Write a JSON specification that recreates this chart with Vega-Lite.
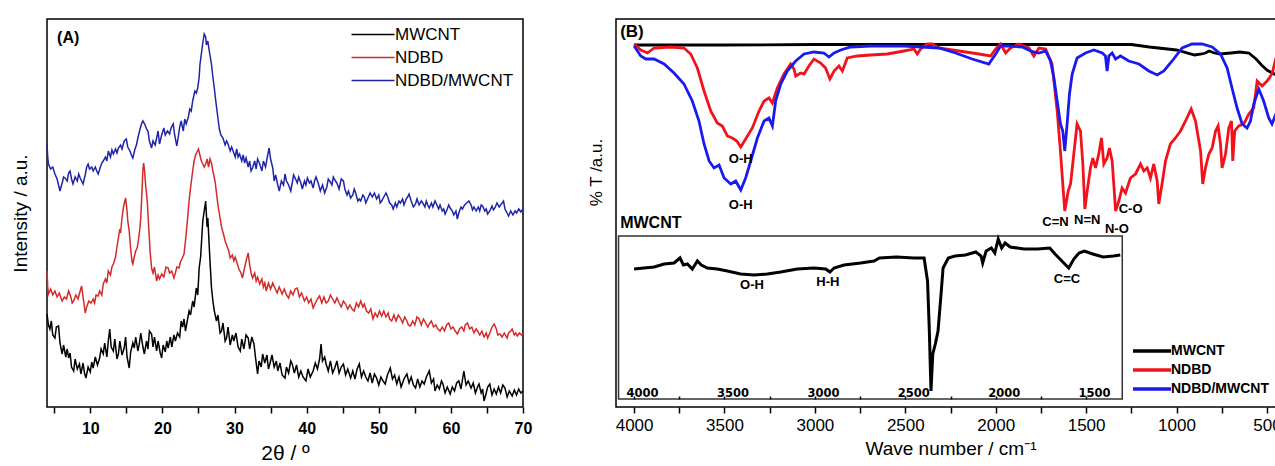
{
"$schema": "https://vega.github.io/schema/vega-lite/v6.json",
"padding": {"left": 10, "top": 18, "right": 0, "bottom": 0},
"spacing": 53,
"config": {"view": {"stroke": "#000", "strokeWidth": 1.5}, "font": "Liberation Sans", "axis": {"labelColor": "#000", "titleColor": "#000", "tickColor": "#000", "grid": false}},
"resolve": {"scale": {"color": "independent"}, "legend": {"color": "independent"}},
"datasets": {
"xrd": [
{"s":"MWCNT","t":4.0,"i":93},{"s":"MWCNT","t":4.2,"i":82},{"s":"MWCNT","t":4.4,"i":78},{"s":"MWCNT","t":4.6,"i":86},{"s":"MWCNT","t":4.8,"i":72},{"s":"MWCNT","t":5.1,"i":69},{"s":"MWCNT","t":5.3,"i":80},{"s":"MWCNT","t":5.6,"i":81},{"s":"MWCNT","t":5.8,"i":64},{"s":"MWCNT","t":6.1,"i":53},{"s":"MWCNT","t":6.3,"i":62},{"s":"MWCNT","t":6.6,"i":50},{"s":"MWCNT","t":6.8,"i":58},{"s":"MWCNT","t":7.0,"i":49},{"s":"MWCNT","t":7.2,"i":54},{"s":"MWCNT","t":7.4,"i":40},{"s":"MWCNT","t":7.7,"i":36},{"s":"MWCNT","t":7.9,"i":48},{"s":"MWCNT","t":8.2,"i":38},{"s":"MWCNT","t":8.5,"i":43},{"s":"MWCNT","t":8.7,"i":33},{"s":"MWCNT","t":9.0,"i":44},{"s":"MWCNT","t":9.2,"i":34},{"s":"MWCNT","t":9.4,"i":29},{"s":"MWCNT","t":9.7,"i":40},{"s":"MWCNT","t":10.0,"i":35},{"s":"MWCNT","t":10.2,"i":45},{"s":"MWCNT","t":10.4,"i":39},{"s":"MWCNT","t":10.7,"i":50},{"s":"MWCNT","t":11.0,"i":42},{"s":"MWCNT","t":11.3,"i":49},{"s":"MWCNT","t":11.5,"i":58},{"s":"MWCNT","t":11.8,"i":53},{"s":"MWCNT","t":12.0,"i":64},{"s":"MWCNT","t":12.3,"i":50},{"s":"MWCNT","t":12.5,"i":66},{"s":"MWCNT","t":12.7,"i":78},{"s":"MWCNT","t":12.9,"i":60},{"s":"MWCNT","t":13.2,"i":56},{"s":"MWCNT","t":13.4,"i":68},{"s":"MWCNT","t":13.7,"i":48},{"s":"MWCNT","t":13.9,"i":53},{"s":"MWCNT","t":14.1,"i":66},{"s":"MWCNT","t":14.4,"i":52},{"s":"MWCNT","t":14.7,"i":59},{"s":"MWCNT","t":14.9,"i":70},{"s":"MWCNT","t":15.1,"i":50},{"s":"MWCNT","t":15.4,"i":39},{"s":"MWCNT","t":15.6,"i":55},{"s":"MWCNT","t":15.9,"i":64},{"s":"MWCNT","t":16.1,"i":59},{"s":"MWCNT","t":16.3,"i":70},{"s":"MWCNT","t":16.6,"i":56},{"s":"MWCNT","t":16.8,"i":63},{"s":"MWCNT","t":17.0,"i":74},{"s":"MWCNT","t":17.3,"i":60},{"s":"MWCNT","t":17.5,"i":53},{"s":"MWCNT","t":17.8,"i":66},{"s":"MWCNT","t":18.0,"i":58},{"s":"MWCNT","t":18.2,"i":76},{"s":"MWCNT","t":18.5,"i":73},{"s":"MWCNT","t":18.7,"i":60},{"s":"MWCNT","t":18.9,"i":70},{"s":"MWCNT","t":19.2,"i":56},{"s":"MWCNT","t":19.4,"i":66},{"s":"MWCNT","t":19.7,"i":54},{"s":"MWCNT","t":19.9,"i":49},{"s":"MWCNT","t":20.1,"i":62},{"s":"MWCNT","t":20.4,"i":55},{"s":"MWCNT","t":20.6,"i":66},{"s":"MWCNT","t":20.8,"i":59},{"s":"MWCNT","t":21.1,"i":70},{"s":"MWCNT","t":21.3,"i":60},{"s":"MWCNT","t":21.6,"i":72},{"s":"MWCNT","t":21.8,"i":66},{"s":"MWCNT","t":22.1,"i":74},{"s":"MWCNT","t":22.4,"i":70},{"s":"MWCNT","t":22.6,"i":86},{"s":"MWCNT","t":22.8,"i":80},{"s":"MWCNT","t":23.0,"i":88},{"s":"MWCNT","t":23.2,"i":76},{"s":"MWCNT","t":23.4,"i":84},{"s":"MWCNT","t":23.7,"i":96},{"s":"MWCNT","t":23.9,"i":92},{"s":"MWCNT","t":24.2,"i":106},{"s":"MWCNT","t":24.4,"i":100},{"s":"MWCNT","t":24.7,"i":119},{"s":"MWCNT","t":24.9,"i":112},{"s":"MWCNT","t":25.1,"i":139},{"s":"MWCNT","t":25.3,"i":150},{"s":"MWCNT","t":25.6,"i":186},{"s":"MWCNT","t":25.8,"i":196},{"s":"MWCNT","t":26.0,"i":206},{"s":"MWCNT","t":26.2,"i":180},{"s":"MWCNT","t":26.3,"i":189},{"s":"MWCNT","t":26.5,"i":160},{"s":"MWCNT","t":26.6,"i":146},{"s":"MWCNT","t":26.8,"i":120},{"s":"MWCNT","t":27.0,"i":106},{"s":"MWCNT","t":27.2,"i":96},{"s":"MWCNT","t":27.5,"i":86},{"s":"MWCNT","t":27.7,"i":92},{"s":"MWCNT","t":28.0,"i":74},{"s":"MWCNT","t":28.2,"i":76},{"s":"MWCNT","t":28.4,"i":84},{"s":"MWCNT","t":28.7,"i":66},{"s":"MWCNT","t":28.9,"i":69},{"s":"MWCNT","t":29.1,"i":80},{"s":"MWCNT","t":29.4,"i":62},{"s":"MWCNT","t":29.7,"i":72},{"s":"MWCNT","t":29.9,"i":66},{"s":"MWCNT","t":30.2,"i":74},{"s":"MWCNT","t":30.5,"i":60},{"s":"MWCNT","t":30.8,"i":56},{"s":"MWCNT","t":31.0,"i":68},{"s":"MWCNT","t":31.3,"i":58},{"s":"MWCNT","t":31.6,"i":72},{"s":"MWCNT","t":31.9,"i":69},{"s":"MWCNT","t":32.1,"i":58},{"s":"MWCNT","t":32.4,"i":70},{"s":"MWCNT","t":32.7,"i":63},{"s":"MWCNT","t":32.9,"i":50},{"s":"MWCNT","t":33.2,"i":33},{"s":"MWCNT","t":33.4,"i":46},{"s":"MWCNT","t":33.7,"i":40},{"s":"MWCNT","t":33.9,"i":53},{"s":"MWCNT","t":34.2,"i":44},{"s":"MWCNT","t":34.5,"i":52},{"s":"MWCNT","t":34.7,"i":38},{"s":"MWCNT","t":34.9,"i":43},{"s":"MWCNT","t":35.2,"i":52},{"s":"MWCNT","t":35.5,"i":40},{"s":"MWCNT","t":35.8,"i":46},{"s":"MWCNT","t":36.0,"i":36},{"s":"MWCNT","t":36.3,"i":44},{"s":"MWCNT","t":36.6,"i":32},{"s":"MWCNT","t":37.0,"i":29},{"s":"MWCNT","t":37.2,"i":40},{"s":"MWCNT","t":37.5,"i":34},{"s":"MWCNT","t":37.8,"i":46},{"s":"MWCNT","t":38.0,"i":43},{"s":"MWCNT","t":38.3,"i":34},{"s":"MWCNT","t":38.6,"i":42},{"s":"MWCNT","t":38.9,"i":30},{"s":"MWCNT","t":39.2,"i":36},{"s":"MWCNT","t":39.5,"i":30},{"s":"MWCNT","t":39.9,"i":26},{"s":"MWCNT","t":40.2,"i":38},{"s":"MWCNT","t":40.5,"i":30},{"s":"MWCNT","t":40.9,"i":36},{"s":"MWCNT","t":41.2,"i":44},{"s":"MWCNT","t":41.5,"i":38},{"s":"MWCNT","t":41.8,"i":48},{"s":"MWCNT","t":42.0,"i":63},{"s":"MWCNT","t":42.2,"i":46},{"s":"MWCNT","t":42.5,"i":50},{"s":"MWCNT","t":42.7,"i":43},{"s":"MWCNT","t":43.0,"i":36},{"s":"MWCNT","t":43.3,"i":46},{"s":"MWCNT","t":43.6,"i":34},{"s":"MWCNT","t":43.9,"i":39},{"s":"MWCNT","t":44.2,"i":46},{"s":"MWCNT","t":44.5,"i":34},{"s":"MWCNT","t":44.8,"i":40},{"s":"MWCNT","t":45.1,"i":43},{"s":"MWCNT","t":45.4,"i":32},{"s":"MWCNT","t":45.7,"i":38},{"s":"MWCNT","t":46.1,"i":29},{"s":"MWCNT","t":46.4,"i":36},{"s":"MWCNT","t":46.7,"i":28},{"s":"MWCNT","t":47.0,"i":38},{"s":"MWCNT","t":47.3,"i":43},{"s":"MWCNT","t":47.6,"i":30},{"s":"MWCNT","t":47.9,"i":36},{"s":"MWCNT","t":48.2,"i":30},{"s":"MWCNT","t":48.5,"i":26},{"s":"MWCNT","t":48.8,"i":34},{"s":"MWCNT","t":49.1,"i":24},{"s":"MWCNT","t":49.4,"i":33},{"s":"MWCNT","t":49.7,"i":29},{"s":"MWCNT","t":50.0,"i":22},{"s":"MWCNT","t":50.3,"i":30},{"s":"MWCNT","t":50.6,"i":26},{"s":"MWCNT","t":50.9,"i":23},{"s":"MWCNT","t":51.2,"i":32},{"s":"MWCNT","t":51.6,"i":39},{"s":"MWCNT","t":51.9,"i":28},{"s":"MWCNT","t":52.2,"i":32},{"s":"MWCNT","t":52.5,"i":23},{"s":"MWCNT","t":52.8,"i":30},{"s":"MWCNT","t":53.1,"i":20},{"s":"MWCNT","t":53.5,"i":28},{"s":"MWCNT","t":53.9,"i":33},{"s":"MWCNT","t":54.2,"i":24},{"s":"MWCNT","t":54.5,"i":30},{"s":"MWCNT","t":54.8,"i":22},{"s":"MWCNT","t":55.1,"i":19},{"s":"MWCNT","t":55.4,"i":28},{"s":"MWCNT","t":55.7,"i":20},{"s":"MWCNT","t":56.0,"i":26},{"s":"MWCNT","t":56.3,"i":23},{"s":"MWCNT","t":56.6,"i":30},{"s":"MWCNT","t":57.0,"i":36},{"s":"MWCNT","t":57.3,"i":24},{"s":"MWCNT","t":57.6,"i":28},{"s":"MWCNT","t":57.8,"i":16},{"s":"MWCNT","t":58.1,"i":22},{"s":"MWCNT","t":58.4,"i":18},{"s":"MWCNT","t":58.7,"i":26},{"s":"MWCNT","t":58.9,"i":23},{"s":"MWCNT","t":59.2,"i":14},{"s":"MWCNT","t":59.5,"i":20},{"s":"MWCNT","t":59.9,"i":13},{"s":"MWCNT","t":60.2,"i":20},{"s":"MWCNT","t":60.5,"i":16},{"s":"MWCNT","t":60.8,"i":24},{"s":"MWCNT","t":61.1,"i":26},{"s":"MWCNT","t":61.4,"i":18},{"s":"MWCNT","t":61.8,"i":36},{"s":"MWCNT","t":62.1,"i":22},{"s":"MWCNT","t":62.4,"i":26},{"s":"MWCNT","t":62.8,"i":19},{"s":"MWCNT","t":63.1,"i":24},{"s":"MWCNT","t":63.4,"i":14},{"s":"MWCNT","t":63.7,"i":20},{"s":"MWCNT","t":63.9,"i":23},{"s":"MWCNT","t":64.2,"i":14},{"s":"MWCNT","t":64.4,"i":18},{"s":"MWCNT","t":64.6,"i":6},{"s":"MWCNT","t":64.9,"i":14},{"s":"MWCNT","t":65.1,"i":20},{"s":"MWCNT","t":65.4,"i":23},{"s":"MWCNT","t":65.7,"i":12},{"s":"MWCNT","t":66.0,"i":18},{"s":"MWCNT","t":66.3,"i":13},{"s":"MWCNT","t":66.6,"i":20},{"s":"MWCNT","t":66.9,"i":14},{"s":"MWCNT","t":67.2,"i":22},{"s":"MWCNT","t":67.5,"i":19},{"s":"MWCNT","t":67.8,"i":10},{"s":"MWCNT","t":68.1,"i":16},{"s":"MWCNT","t":68.5,"i":11},{"s":"MWCNT","t":68.8,"i":17},{"s":"MWCNT","t":69.1,"i":12},{"s":"MWCNT","t":69.4,"i":18},{"s":"MWCNT","t":69.7,"i":14},{"s":"MWCNT","t":70.0,"i":16},
{"s":"NDBD","t":4.0,"i":136},{"s":"NDBD","t":4.1,"i":120},{"s":"NDBD","t":4.2,"i":113},{"s":"NDBD","t":4.5,"i":118},{"s":"NDBD","t":4.8,"i":112},{"s":"NDBD","t":5.1,"i":116},{"s":"NDBD","t":5.4,"i":110},{"s":"NDBD","t":5.7,"i":114},{"s":"NDBD","t":6.1,"i":106},{"s":"NDBD","t":6.4,"i":110},{"s":"NDBD","t":6.7,"i":108},{"s":"NDBD","t":7.0,"i":116},{"s":"NDBD","t":7.3,"i":110},{"s":"NDBD","t":7.5,"i":104},{"s":"NDBD","t":7.7,"i":106},{"s":"NDBD","t":8.0,"i":112},{"s":"NDBD","t":8.3,"i":108},{"s":"NDBD","t":8.6,"i":116},{"s":"NDBD","t":8.8,"i":121},{"s":"NDBD","t":9.0,"i":110},{"s":"NDBD","t":9.3,"i":94},{"s":"NDBD","t":9.5,"i":100},{"s":"NDBD","t":9.8,"i":106},{"s":"NDBD","t":10.1,"i":104},{"s":"NDBD","t":10.4,"i":108},{"s":"NDBD","t":10.6,"i":104},{"s":"NDBD","t":10.8,"i":112},{"s":"NDBD","t":11.1,"i":111},{"s":"NDBD","t":11.3,"i":116},{"s":"NDBD","t":11.6,"i":112},{"s":"NDBD","t":11.8,"i":123},{"s":"NDBD","t":12.1,"i":128},{"s":"NDBD","t":12.3,"i":124},{"s":"NDBD","t":12.5,"i":136},{"s":"NDBD","t":12.8,"i":132},{"s":"NDBD","t":13.0,"i":140},{"s":"NDBD","t":13.2,"i":143},{"s":"NDBD","t":13.5,"i":150},{"s":"NDBD","t":13.7,"i":160},{"s":"NDBD","t":13.9,"i":169},{"s":"NDBD","t":14.1,"i":178},{"s":"NDBD","t":14.2,"i":174},{"s":"NDBD","t":14.4,"i":189},{"s":"NDBD","t":14.6,"i":200},{"s":"NDBD","t":14.8,"i":206},{"s":"NDBD","t":14.9,"i":209},{"s":"NDBD","t":15.1,"i":196},{"s":"NDBD","t":15.2,"i":186},{"s":"NDBD","t":15.4,"i":176},{"s":"NDBD","t":15.6,"i":158},{"s":"NDBD","t":15.8,"i":145},{"s":"NDBD","t":15.9,"i":143},{"s":"NDBD","t":16.1,"i":150},{"s":"NDBD","t":16.3,"i":156},{"s":"NDBD","t":16.5,"i":159},{"s":"NDBD","t":16.7,"i":168},{"s":"NDBD","t":16.9,"i":180},{"s":"NDBD","t":17.0,"i":189},{"s":"NDBD","t":17.2,"i":220},{"s":"NDBD","t":17.3,"i":238},{"s":"NDBD","t":17.4,"i":244},{"s":"NDBD","t":17.5,"i":238},{"s":"NDBD","t":17.7,"i":220},{"s":"NDBD","t":17.9,"i":206},{"s":"NDBD","t":18.1,"i":180},{"s":"NDBD","t":18.3,"i":155},{"s":"NDBD","t":18.5,"i":139},{"s":"NDBD","t":18.7,"i":134},{"s":"NDBD","t":18.9,"i":140},{"s":"NDBD","t":19.2,"i":126},{"s":"NDBD","t":19.4,"i":132},{"s":"NDBD","t":19.6,"i":128},{"s":"NDBD","t":19.9,"i":133},{"s":"NDBD","t":20.2,"i":130},{"s":"NDBD","t":20.5,"i":140},{"s":"NDBD","t":20.8,"i":139},{"s":"NDBD","t":21.0,"i":134},{"s":"NDBD","t":21.3,"i":136},{"s":"NDBD","t":21.6,"i":129},{"s":"NDBD","t":21.8,"i":134},{"s":"NDBD","t":22.0,"i":140},{"s":"NDBD","t":22.3,"i":139},{"s":"NDBD","t":22.5,"i":145},{"s":"NDBD","t":22.7,"i":148},{"s":"NDBD","t":23.0,"i":153},{"s":"NDBD","t":23.2,"i":166},{"s":"NDBD","t":23.5,"i":189},{"s":"NDBD","t":23.7,"i":206},{"s":"NDBD","t":23.9,"i":219},{"s":"NDBD","t":24.2,"i":236},{"s":"NDBD","t":24.4,"i":246},{"s":"NDBD","t":24.6,"i":252},{"s":"NDBD","t":24.8,"i":255},{"s":"NDBD","t":25.0,"i":258},{"s":"NDBD","t":25.2,"i":252},{"s":"NDBD","t":25.4,"i":246},{"s":"NDBD","t":25.6,"i":243},{"s":"NDBD","t":25.8,"i":240},{"s":"NDBD","t":26.0,"i":243},{"s":"NDBD","t":26.2,"i":248},{"s":"NDBD","t":26.4,"i":240},{"s":"NDBD","t":26.6,"i":248},{"s":"NDBD","t":26.8,"i":244},{"s":"NDBD","t":27.0,"i":236},{"s":"NDBD","t":27.3,"i":226},{"s":"NDBD","t":27.5,"i":214},{"s":"NDBD","t":27.7,"i":202},{"s":"NDBD","t":28.0,"i":189},{"s":"NDBD","t":28.2,"i":180},{"s":"NDBD","t":28.5,"i":172},{"s":"NDBD","t":28.7,"i":166},{"s":"NDBD","t":28.9,"i":162},{"s":"NDBD","t":29.2,"i":156},{"s":"NDBD","t":29.4,"i":149},{"s":"NDBD","t":29.7,"i":152},{"s":"NDBD","t":29.9,"i":146},{"s":"NDBD","t":30.1,"i":150},{"s":"NDBD","t":30.4,"i":143},{"s":"NDBD","t":30.6,"i":138},{"s":"NDBD","t":30.9,"i":134},{"s":"NDBD","t":31.1,"i":129},{"s":"NDBD","t":31.3,"i":136},{"s":"NDBD","t":31.6,"i":146},{"s":"NDBD","t":31.9,"i":154},{"s":"NDBD","t":32.1,"i":142},{"s":"NDBD","t":32.3,"i":134},{"s":"NDBD","t":32.5,"i":129},{"s":"NDBD","t":32.8,"i":134},{"s":"NDBD","t":33.0,"i":126},{"s":"NDBD","t":33.2,"i":130},{"s":"NDBD","t":33.5,"i":123},{"s":"NDBD","t":33.8,"i":128},{"s":"NDBD","t":34.0,"i":120},{"s":"NDBD","t":34.2,"i":124},{"s":"NDBD","t":34.4,"i":116},{"s":"NDBD","t":34.7,"i":124},{"s":"NDBD","t":35.0,"i":118},{"s":"NDBD","t":35.3,"i":124},{"s":"NDBD","t":35.6,"i":119},{"s":"NDBD","t":35.9,"i":114},{"s":"NDBD","t":36.2,"i":120},{"s":"NDBD","t":36.6,"i":113},{"s":"NDBD","t":36.9,"i":118},{"s":"NDBD","t":37.2,"i":112},{"s":"NDBD","t":37.5,"i":109},{"s":"NDBD","t":37.8,"i":116},{"s":"NDBD","t":38.1,"i":112},{"s":"NDBD","t":38.4,"i":118},{"s":"NDBD","t":38.7,"i":119},{"s":"NDBD","t":39.0,"i":110},{"s":"NDBD","t":39.3,"i":114},{"s":"NDBD","t":39.7,"i":106},{"s":"NDBD","t":40.0,"i":110},{"s":"NDBD","t":40.3,"i":104},{"s":"NDBD","t":40.6,"i":108},{"s":"NDBD","t":40.9,"i":99},{"s":"NDBD","t":41.2,"i":104},{"s":"NDBD","t":41.5,"i":108},{"s":"NDBD","t":41.8,"i":111},{"s":"NDBD","t":42.1,"i":104},{"s":"NDBD","t":42.4,"i":110},{"s":"NDBD","t":42.7,"i":104},{"s":"NDBD","t":43.0,"i":106},{"s":"NDBD","t":43.3,"i":112},{"s":"NDBD","t":43.6,"i":108},{"s":"NDBD","t":43.9,"i":104},{"s":"NDBD","t":44.2,"i":109},{"s":"NDBD","t":44.5,"i":104},{"s":"NDBD","t":44.8,"i":100},{"s":"NDBD","t":45.1,"i":106},{"s":"NDBD","t":45.4,"i":103},{"s":"NDBD","t":45.7,"i":98},{"s":"NDBD","t":46.0,"i":102},{"s":"NDBD","t":46.3,"i":98},{"s":"NDBD","t":46.6,"i":96},{"s":"NDBD","t":46.9,"i":104},{"s":"NDBD","t":47.2,"i":100},{"s":"NDBD","t":47.5,"i":106},{"s":"NDBD","t":47.8,"i":100},{"s":"NDBD","t":48.0,"i":103},{"s":"NDBD","t":48.3,"i":96},{"s":"NDBD","t":48.6,"i":94},{"s":"NDBD","t":48.9,"i":98},{"s":"NDBD","t":49.2,"i":88},{"s":"NDBD","t":49.5,"i":94},{"s":"NDBD","t":49.8,"i":90},{"s":"NDBD","t":50.1,"i":96},{"s":"NDBD","t":50.4,"i":91},{"s":"NDBD","t":50.7,"i":96},{"s":"NDBD","t":51.0,"i":90},{"s":"NDBD","t":51.3,"i":94},{"s":"NDBD","t":51.5,"i":88},{"s":"NDBD","t":51.8,"i":86},{"s":"NDBD","t":52.1,"i":92},{"s":"NDBD","t":52.4,"i":86},{"s":"NDBD","t":52.7,"i":92},{"s":"NDBD","t":53.0,"i":89},{"s":"NDBD","t":53.3,"i":84},{"s":"NDBD","t":53.6,"i":90},{"s":"NDBD","t":53.9,"i":86},{"s":"NDBD","t":54.1,"i":82},{"s":"NDBD","t":54.4,"i":81},{"s":"NDBD","t":54.7,"i":86},{"s":"NDBD","t":55.0,"i":82},{"s":"NDBD","t":55.3,"i":90},{"s":"NDBD","t":55.6,"i":88},{"s":"NDBD","t":55.9,"i":82},{"s":"NDBD","t":56.2,"i":88},{"s":"NDBD","t":56.5,"i":84},{"s":"NDBD","t":56.8,"i":80},{"s":"NDBD","t":57.0,"i":83},{"s":"NDBD","t":57.3,"i":86},{"s":"NDBD","t":57.6,"i":80},{"s":"NDBD","t":57.9,"i":82},{"s":"NDBD","t":58.2,"i":78},{"s":"NDBD","t":58.5,"i":76},{"s":"NDBD","t":58.8,"i":80},{"s":"NDBD","t":59.1,"i":76},{"s":"NDBD","t":59.4,"i":82},{"s":"NDBD","t":59.7,"i":84},{"s":"NDBD","t":60.0,"i":78},{"s":"NDBD","t":60.3,"i":80},{"s":"NDBD","t":60.6,"i":76},{"s":"NDBD","t":60.9,"i":73},{"s":"NDBD","t":61.2,"i":78},{"s":"NDBD","t":61.5,"i":80},{"s":"NDBD","t":61.8,"i":76},{"s":"NDBD","t":62.0,"i":82},{"s":"NDBD","t":62.3,"i":84},{"s":"NDBD","t":62.6,"i":78},{"s":"NDBD","t":62.9,"i":80},{"s":"NDBD","t":63.2,"i":74},{"s":"NDBD","t":63.5,"i":78},{"s":"NDBD","t":63.7,"i":76},{"s":"NDBD","t":64.0,"i":72},{"s":"NDBD","t":64.3,"i":76},{"s":"NDBD","t":64.6,"i":70},{"s":"NDBD","t":64.9,"i":74},{"s":"NDBD","t":65.1,"i":69},{"s":"NDBD","t":65.4,"i":74},{"s":"NDBD","t":65.7,"i":80},{"s":"NDBD","t":66.0,"i":83},{"s":"NDBD","t":66.3,"i":78},{"s":"NDBD","t":66.5,"i":72},{"s":"NDBD","t":66.8,"i":73},{"s":"NDBD","t":67.1,"i":70},{"s":"NDBD","t":67.4,"i":74},{"s":"NDBD","t":67.8,"i":69},{"s":"NDBD","t":68.0,"i":74},{"s":"NDBD","t":68.3,"i":76},{"s":"NDBD","t":68.5,"i":78},{"s":"NDBD","t":68.8,"i":72},{"s":"NDBD","t":69.0,"i":74},{"s":"NDBD","t":69.2,"i":71},{"s":"NDBD","t":69.5,"i":74},{"s":"NDBD","t":69.8,"i":72},{"s":"NDBD","t":70.0,"i":73},
{"s":"NDBD/MWCNT","t":4.0,"i":263},{"s":"NDBD/MWCNT","t":4.1,"i":250},{"s":"NDBD/MWCNT","t":4.2,"i":243},{"s":"NDBD/MWCNT","t":4.5,"i":238},{"s":"NDBD/MWCNT","t":4.8,"i":240},{"s":"NDBD/MWCNT","t":5.1,"i":233},{"s":"NDBD/MWCNT","t":5.4,"i":228},{"s":"NDBD/MWCNT","t":5.6,"i":222},{"s":"NDBD/MWCNT","t":5.8,"i":216},{"s":"NDBD/MWCNT","t":6.1,"i":224},{"s":"NDBD/MWCNT","t":6.3,"i":230},{"s":"NDBD/MWCNT","t":6.5,"i":229},{"s":"NDBD/MWCNT","t":6.8,"i":226},{"s":"NDBD/MWCNT","t":7.0,"i":234},{"s":"NDBD/MWCNT","t":7.2,"i":236},{"s":"NDBD/MWCNT","t":7.4,"i":228},{"s":"NDBD/MWCNT","t":7.6,"i":223},{"s":"NDBD/MWCNT","t":7.9,"i":230},{"s":"NDBD/MWCNT","t":8.2,"i":226},{"s":"NDBD/MWCNT","t":8.4,"i":233},{"s":"NDBD/MWCNT","t":8.6,"i":229},{"s":"NDBD/MWCNT","t":8.8,"i":226},{"s":"NDBD/MWCNT","t":9.0,"i":223},{"s":"NDBD/MWCNT","t":9.3,"i":232},{"s":"NDBD/MWCNT","t":9.5,"i":240},{"s":"NDBD/MWCNT","t":9.7,"i":243},{"s":"NDBD/MWCNT","t":9.9,"i":238},{"s":"NDBD/MWCNT","t":10.2,"i":240},{"s":"NDBD/MWCNT","t":10.4,"i":236},{"s":"NDBD/MWCNT","t":10.7,"i":240},{"s":"NDBD/MWCNT","t":10.9,"i":236},{"s":"NDBD/MWCNT","t":11.1,"i":233},{"s":"NDBD/MWCNT","t":11.4,"i":240},{"s":"NDBD/MWCNT","t":11.6,"i":244},{"s":"NDBD/MWCNT","t":11.8,"i":246},{"s":"NDBD/MWCNT","t":12.1,"i":250},{"s":"NDBD/MWCNT","t":12.3,"i":246},{"s":"NDBD/MWCNT","t":12.5,"i":256},{"s":"NDBD/MWCNT","t":12.8,"i":250},{"s":"NDBD/MWCNT","t":13.0,"i":257},{"s":"NDBD/MWCNT","t":13.2,"i":253},{"s":"NDBD/MWCNT","t":13.5,"i":258},{"s":"NDBD/MWCNT","t":13.7,"i":254},{"s":"NDBD/MWCNT","t":13.9,"i":259},{"s":"NDBD/MWCNT","t":14.2,"i":262},{"s":"NDBD/MWCNT","t":14.4,"i":258},{"s":"NDBD/MWCNT","t":14.7,"i":266},{"s":"NDBD/MWCNT","t":15.0,"i":268},{"s":"NDBD/MWCNT","t":15.2,"i":260},{"s":"NDBD/MWCNT","t":15.5,"i":256},{"s":"NDBD/MWCNT","t":15.7,"i":252},{"s":"NDBD/MWCNT","t":15.9,"i":249},{"s":"NDBD/MWCNT","t":16.2,"i":258},{"s":"NDBD/MWCNT","t":16.4,"i":262},{"s":"NDBD/MWCNT","t":16.6,"i":269},{"s":"NDBD/MWCNT","t":16.9,"i":278},{"s":"NDBD/MWCNT","t":17.1,"i":283},{"s":"NDBD/MWCNT","t":17.3,"i":286},{"s":"NDBD/MWCNT","t":17.6,"i":282},{"s":"NDBD/MWCNT","t":17.8,"i":278},{"s":"NDBD/MWCNT","t":18.0,"i":276},{"s":"NDBD/MWCNT","t":18.2,"i":266},{"s":"NDBD/MWCNT","t":18.5,"i":259},{"s":"NDBD/MWCNT","t":18.7,"i":266},{"s":"NDBD/MWCNT","t":19.0,"i":262},{"s":"NDBD/MWCNT","t":19.2,"i":269},{"s":"NDBD/MWCNT","t":19.4,"i":276},{"s":"NDBD/MWCNT","t":19.6,"i":263},{"s":"NDBD/MWCNT","t":19.9,"i":272},{"s":"NDBD/MWCNT","t":20.2,"i":279},{"s":"NDBD/MWCNT","t":20.4,"i":272},{"s":"NDBD/MWCNT","t":20.7,"i":276},{"s":"NDBD/MWCNT","t":21.0,"i":273},{"s":"NDBD/MWCNT","t":21.2,"i":279},{"s":"NDBD/MWCNT","t":21.5,"i":283},{"s":"NDBD/MWCNT","t":21.7,"i":272},{"s":"NDBD/MWCNT","t":22.0,"i":261},{"s":"NDBD/MWCNT","t":22.2,"i":270},{"s":"NDBD/MWCNT","t":22.4,"i":280},{"s":"NDBD/MWCNT","t":22.6,"i":286},{"s":"NDBD/MWCNT","t":22.9,"i":276},{"s":"NDBD/MWCNT","t":23.1,"i":288},{"s":"NDBD/MWCNT","t":23.3,"i":283},{"s":"NDBD/MWCNT","t":23.6,"i":290},{"s":"NDBD/MWCNT","t":23.8,"i":298},{"s":"NDBD/MWCNT","t":24.0,"i":296},{"s":"NDBD/MWCNT","t":24.2,"i":306},{"s":"NDBD/MWCNT","t":24.5,"i":316},{"s":"NDBD/MWCNT","t":24.7,"i":314},{"s":"NDBD/MWCNT","t":24.9,"i":319},{"s":"NDBD/MWCNT","t":25.1,"i":330},{"s":"NDBD/MWCNT","t":25.2,"i":342},{"s":"NDBD/MWCNT","t":25.4,"i":353},{"s":"NDBD/MWCNT","t":25.6,"i":364},{"s":"NDBD/MWCNT","t":25.8,"i":373},{"s":"NDBD/MWCNT","t":26.0,"i":370},{"s":"NDBD/MWCNT","t":26.1,"i":362},{"s":"NDBD/MWCNT","t":26.3,"i":366},{"s":"NDBD/MWCNT","t":26.5,"i":356},{"s":"NDBD/MWCNT","t":26.8,"i":343},{"s":"NDBD/MWCNT","t":27.0,"i":330},{"s":"NDBD/MWCNT","t":27.2,"i":319},{"s":"NDBD/MWCNT","t":27.4,"i":306},{"s":"NDBD/MWCNT","t":27.7,"i":289},{"s":"NDBD/MWCNT","t":27.9,"i":278},{"s":"NDBD/MWCNT","t":28.1,"i":272},{"s":"NDBD/MWCNT","t":28.4,"i":269},{"s":"NDBD/MWCNT","t":28.7,"i":262},{"s":"NDBD/MWCNT","t":28.9,"i":266},{"s":"NDBD/MWCNT","t":29.1,"i":263},{"s":"NDBD/MWCNT","t":29.4,"i":256},{"s":"NDBD/MWCNT","t":29.6,"i":260},{"s":"NDBD/MWCNT","t":29.8,"i":256},{"s":"NDBD/MWCNT","t":30.1,"i":250},{"s":"NDBD/MWCNT","t":30.3,"i":258},{"s":"NDBD/MWCNT","t":30.5,"i":250},{"s":"NDBD/MWCNT","t":30.7,"i":253},{"s":"NDBD/MWCNT","t":31.0,"i":246},{"s":"NDBD/MWCNT","t":31.2,"i":252},{"s":"NDBD/MWCNT","t":31.4,"i":244},{"s":"NDBD/MWCNT","t":31.6,"i":249},{"s":"NDBD/MWCNT","t":31.9,"i":240},{"s":"NDBD/MWCNT","t":32.1,"i":246},{"s":"NDBD/MWCNT","t":32.3,"i":236},{"s":"NDBD/MWCNT","t":32.5,"i":239},{"s":"NDBD/MWCNT","t":32.8,"i":246},{"s":"NDBD/MWCNT","t":33.0,"i":238},{"s":"NDBD/MWCNT","t":33.2,"i":248},{"s":"NDBD/MWCNT","t":33.5,"i":243},{"s":"NDBD/MWCNT","t":33.8,"i":236},{"s":"NDBD/MWCNT","t":34.0,"i":246},{"s":"NDBD/MWCNT","t":34.3,"i":240},{"s":"NDBD/MWCNT","t":34.6,"i":252},{"s":"NDBD/MWCNT","t":34.8,"i":259},{"s":"NDBD/MWCNT","t":35.0,"i":248},{"s":"NDBD/MWCNT","t":35.3,"i":239},{"s":"NDBD/MWCNT","t":35.5,"i":226},{"s":"NDBD/MWCNT","t":35.7,"i":232},{"s":"NDBD/MWCNT","t":36.0,"i":222},{"s":"NDBD/MWCNT","t":36.2,"i":216},{"s":"NDBD/MWCNT","t":36.5,"i":226},{"s":"NDBD/MWCNT","t":36.8,"i":222},{"s":"NDBD/MWCNT","t":37.0,"i":233},{"s":"NDBD/MWCNT","t":37.2,"i":226},{"s":"NDBD/MWCNT","t":37.5,"i":222},{"s":"NDBD/MWCNT","t":37.8,"i":216},{"s":"NDBD/MWCNT","t":38.0,"i":224},{"s":"NDBD/MWCNT","t":38.2,"i":232},{"s":"NDBD/MWCNT","t":38.4,"i":229},{"s":"NDBD/MWCNT","t":38.7,"i":224},{"s":"NDBD/MWCNT","t":38.9,"i":230},{"s":"NDBD/MWCNT","t":39.2,"i":224},{"s":"NDBD/MWCNT","t":39.4,"i":218},{"s":"NDBD/MWCNT","t":39.7,"i":226},{"s":"NDBD/MWCNT","t":39.9,"i":222},{"s":"NDBD/MWCNT","t":40.1,"i":229},{"s":"NDBD/MWCNT","t":40.4,"i":224},{"s":"NDBD/MWCNT","t":40.6,"i":226},{"s":"NDBD/MWCNT","t":40.9,"i":219},{"s":"NDBD/MWCNT","t":41.1,"i":226},{"s":"NDBD/MWCNT","t":41.3,"i":230},{"s":"NDBD/MWCNT","t":41.6,"i":224},{"s":"NDBD/MWCNT","t":41.9,"i":216},{"s":"NDBD/MWCNT","t":42.2,"i":222},{"s":"NDBD/MWCNT","t":42.5,"i":214},{"s":"NDBD/MWCNT","t":42.8,"i":220},{"s":"NDBD/MWCNT","t":43.0,"i":228},{"s":"NDBD/MWCNT","t":43.2,"i":226},{"s":"NDBD/MWCNT","t":43.5,"i":222},{"s":"NDBD/MWCNT","t":43.7,"i":230},{"s":"NDBD/MWCNT","t":44.0,"i":226},{"s":"NDBD/MWCNT","t":44.2,"i":224},{"s":"NDBD/MWCNT","t":44.5,"i":218},{"s":"NDBD/MWCNT","t":44.8,"i":228},{"s":"NDBD/MWCNT","t":45.1,"i":226},{"s":"NDBD/MWCNT","t":45.3,"i":218},{"s":"NDBD/MWCNT","t":45.6,"i":212},{"s":"NDBD/MWCNT","t":45.8,"i":216},{"s":"NDBD/MWCNT","t":46.1,"i":209},{"s":"NDBD/MWCNT","t":46.4,"i":212},{"s":"NDBD/MWCNT","t":46.6,"i":218},{"s":"NDBD/MWCNT","t":46.8,"i":214},{"s":"NDBD/MWCNT","t":47.1,"i":206},{"s":"NDBD/MWCNT","t":47.3,"i":208},{"s":"NDBD/MWCNT","t":47.5,"i":206},{"s":"NDBD/MWCNT","t":47.8,"i":212},{"s":"NDBD/MWCNT","t":48.0,"i":210},{"s":"NDBD/MWCNT","t":48.2,"i":204},{"s":"NDBD/MWCNT","t":48.5,"i":209},{"s":"NDBD/MWCNT","t":48.8,"i":214},{"s":"NDBD/MWCNT","t":49.1,"i":210},{"s":"NDBD/MWCNT","t":49.4,"i":214},{"s":"NDBD/MWCNT","t":49.7,"i":208},{"s":"NDBD/MWCNT","t":50.0,"i":212},{"s":"NDBD/MWCNT","t":50.2,"i":204},{"s":"NDBD/MWCNT","t":50.4,"i":206},{"s":"NDBD/MWCNT","t":50.7,"i":210},{"s":"NDBD/MWCNT","t":51.0,"i":214},{"s":"NDBD/MWCNT","t":51.3,"i":209},{"s":"NDBD/MWCNT","t":51.5,"i":204},{"s":"NDBD/MWCNT","t":51.8,"i":202},{"s":"NDBD/MWCNT","t":52.0,"i":198},{"s":"NDBD/MWCNT","t":52.3,"i":204},{"s":"NDBD/MWCNT","t":52.5,"i":200},{"s":"NDBD/MWCNT","t":52.8,"i":206},{"s":"NDBD/MWCNT","t":53.0,"i":204},{"s":"NDBD/MWCNT","t":53.3,"i":208},{"s":"NDBD/MWCNT","t":53.5,"i":202},{"s":"NDBD/MWCNT","t":53.8,"i":208},{"s":"NDBD/MWCNT","t":54.0,"i":210},{"s":"NDBD/MWCNT","t":54.2,"i":213},{"s":"NDBD/MWCNT","t":54.5,"i":206},{"s":"NDBD/MWCNT","t":54.8,"i":200},{"s":"NDBD/MWCNT","t":55.1,"i":203},{"s":"NDBD/MWCNT","t":55.3,"i":208},{"s":"NDBD/MWCNT","t":55.6,"i":202},{"s":"NDBD/MWCNT","t":55.9,"i":206},{"s":"NDBD/MWCNT","t":56.1,"i":204},{"s":"NDBD/MWCNT","t":56.4,"i":200},{"s":"NDBD/MWCNT","t":56.6,"i":206},{"s":"NDBD/MWCNT","t":56.8,"i":202},{"s":"NDBD/MWCNT","t":57.0,"i":199},{"s":"NDBD/MWCNT","t":57.3,"i":204},{"s":"NDBD/MWCNT","t":57.5,"i":200},{"s":"NDBD/MWCNT","t":57.8,"i":206},{"s":"NDBD/MWCNT","t":58.0,"i":203},{"s":"NDBD/MWCNT","t":58.3,"i":198},{"s":"NDBD/MWCNT","t":58.5,"i":202},{"s":"NDBD/MWCNT","t":58.8,"i":196},{"s":"NDBD/MWCNT","t":59.0,"i":198},{"s":"NDBD/MWCNT","t":59.2,"i":193},{"s":"NDBD/MWCNT","t":59.5,"i":198},{"s":"NDBD/MWCNT","t":59.7,"i":202},{"s":"NDBD/MWCNT","t":59.9,"i":199},{"s":"NDBD/MWCNT","t":60.2,"i":196},{"s":"NDBD/MWCNT","t":60.4,"i":192},{"s":"NDBD/MWCNT","t":60.7,"i":196},{"s":"NDBD/MWCNT","t":60.9,"i":188},{"s":"NDBD/MWCNT","t":61.1,"i":194},{"s":"NDBD/MWCNT","t":61.4,"i":200},{"s":"NDBD/MWCNT","t":61.6,"i":198},{"s":"NDBD/MWCNT","t":61.9,"i":202},{"s":"NDBD/MWCNT","t":62.2,"i":204},{"s":"NDBD/MWCNT","t":62.5,"i":206},{"s":"NDBD/MWCNT","t":62.8,"i":202},{"s":"NDBD/MWCNT","t":63.0,"i":197},{"s":"NDBD/MWCNT","t":63.2,"i":200},{"s":"NDBD/MWCNT","t":63.5,"i":196},{"s":"NDBD/MWCNT","t":63.8,"i":200},{"s":"NDBD/MWCNT","t":64.0,"i":196},{"s":"NDBD/MWCNT","t":64.2,"i":202},{"s":"NDBD/MWCNT","t":64.4,"i":201},{"s":"NDBD/MWCNT","t":64.7,"i":196},{"s":"NDBD/MWCNT","t":64.9,"i":198},{"s":"NDBD/MWCNT","t":65.1,"i":193},{"s":"NDBD/MWCNT","t":65.4,"i":196},{"s":"NDBD/MWCNT","t":65.7,"i":201},{"s":"NDBD/MWCNT","t":65.9,"i":197},{"s":"NDBD/MWCNT","t":66.1,"i":199},{"s":"NDBD/MWCNT","t":66.4,"i":204},{"s":"NDBD/MWCNT","t":66.7,"i":200},{"s":"NDBD/MWCNT","t":67.0,"i":203},{"s":"NDBD/MWCNT","t":67.3,"i":206},{"s":"NDBD/MWCNT","t":67.5,"i":198},{"s":"NDBD/MWCNT","t":67.8,"i":194},{"s":"NDBD/MWCNT","t":68.0,"i":191},{"s":"NDBD/MWCNT","t":68.3,"i":196},{"s":"NDBD/MWCNT","t":68.6,"i":192},{"s":"NDBD/MWCNT","t":68.9,"i":196},{"s":"NDBD/MWCNT","t":69.1,"i":194},{"s":"NDBD/MWCNT","t":69.4,"i":198},{"s":"NDBD/MWCNT","t":69.7,"i":195},{"s":"NDBD/MWCNT","t":70.0,"i":198}
],
"ftir": [
{"s":"MWCNT","w":4000,"v":362},{"s":"MWCNT","w":3500,"v":362},{"s":"MWCNT","w":3000,"v":362.5},{"s":"MWCNT","w":2500,"v":362.5},{"s":"MWCNT","w":2000,"v":362.5},{"s":"MWCNT","w":1500,"v":362.5},{"s":"MWCNT","w":1250,"v":362.5},{"s":"MWCNT","w":1150,"v":360},{"s":"MWCNT","w":1000,"v":357},{"s":"MWCNT","w":900,"v":352},{"s":"MWCNT","w":860,"v":353},{"s":"MWCNT","w":840,"v":354},{"s":"MWCNT","w":820,"v":356},{"s":"MWCNT","w":790,"v":354},{"s":"MWCNT","w":760,"v":353},{"s":"MWCNT","w":700,"v":354},{"s":"MWCNT","w":650,"v":355},{"s":"MWCNT","w":600,"v":354},{"s":"MWCNT","w":560,"v":348},{"s":"MWCNT","w":530,"v":342},{"s":"MWCNT","w":500,"v":337},{"s":"MWCNT","w":450,"v":332},{"s":"MWCNT","w":420,"v":326},
{"s":"NDBD","w":4000,"v":363},{"s":"NDBD","w":3963,"v":357},{"s":"NDBD","w":3926,"v":354},{"s":"NDBD","w":3889,"v":359},{"s":"NDBD","w":3797,"v":360},{"s":"NDBD","w":3724,"v":359},{"s":"NDBD","w":3687,"v":353},{"s":"NDBD","w":3650,"v":339},{"s":"NDBD","w":3613,"v":316},{"s":"NDBD","w":3576,"v":296},{"s":"NDBD","w":3540,"v":284},{"s":"NDBD","w":3512,"v":281},{"s":"NDBD","w":3484,"v":271},{"s":"NDBD","w":3457,"v":269},{"s":"NDBD","w":3432,"v":266},{"s":"NDBD","w":3410,"v":260},{"s":"NDBD","w":3383,"v":268},{"s":"NDBD","w":3346,"v":279},{"s":"NDBD","w":3309,"v":296},{"s":"NDBD","w":3281,"v":306},{"s":"NDBD","w":3254,"v":309},{"s":"NDBD","w":3235,"v":304},{"s":"NDBD","w":3208,"v":319},{"s":"NDBD","w":3171,"v":333},{"s":"NDBD","w":3134,"v":343},{"s":"NDBD","w":3116,"v":338},{"s":"NDBD","w":3106,"v":331},{"s":"NDBD","w":3079,"v":334},{"s":"NDBD","w":3060,"v":333},{"s":"NDBD","w":3033,"v":341},{"s":"NDBD","w":3005,"v":348},{"s":"NDBD","w":2968,"v":344},{"s":"NDBD","w":2941,"v":339},{"s":"NDBD","w":2917,"v":328},{"s":"NDBD","w":2894,"v":336},{"s":"NDBD","w":2867,"v":341},{"s":"NDBD","w":2848,"v":336},{"s":"NDBD","w":2821,"v":349},{"s":"NDBD","w":2766,"v":351},{"s":"NDBD","w":2692,"v":352},{"s":"NDBD","w":2600,"v":353},{"s":"NDBD","w":2507,"v":356},{"s":"NDBD","w":2452,"v":358},{"s":"NDBD","w":2434,"v":353},{"s":"NDBD","w":2415,"v":358},{"s":"NDBD","w":2379,"v":363},{"s":"NDBD","w":2351,"v":363},{"s":"NDBD","w":2314,"v":359},{"s":"NDBD","w":2203,"v":356},{"s":"NDBD","w":2093,"v":353},{"s":"NDBD","w":2028,"v":351},{"s":"NDBD","w":2000,"v":358},{"s":"NDBD","w":1973,"v":363},{"s":"NDBD","w":1945,"v":354},{"s":"NDBD","w":1918,"v":359},{"s":"NDBD","w":1872,"v":363},{"s":"NDBD","w":1816,"v":359},{"s":"NDBD","w":1789,"v":351},{"s":"NDBD","w":1761,"v":359},{"s":"NDBD","w":1724,"v":358},{"s":"NDBD","w":1688,"v":343},{"s":"NDBD","w":1660,"v":296},{"s":"NDBD","w":1642,"v":256},{"s":"NDBD","w":1629,"v":223},{"s":"NDBD","w":1618,"v":196},{"s":"NDBD","w":1599,"v":216},{"s":"NDBD","w":1586,"v":223},{"s":"NDBD","w":1568,"v":253},{"s":"NDBD","w":1550,"v":283},{"s":"NDBD","w":1531,"v":276},{"s":"NDBD","w":1518,"v":243},{"s":"NDBD","w":1507,"v":198},{"s":"NDBD","w":1494,"v":216},{"s":"NDBD","w":1476,"v":239},{"s":"NDBD","w":1463,"v":249},{"s":"NDBD","w":1448,"v":239},{"s":"NDBD","w":1430,"v":253},{"s":"NDBD","w":1415,"v":269},{"s":"NDBD","w":1402,"v":243},{"s":"NDBD","w":1384,"v":249},{"s":"NDBD","w":1371,"v":259},{"s":"NDBD","w":1356,"v":246},{"s":"NDBD","w":1347,"v":223},{"s":"NDBD","w":1337,"v":196},{"s":"NDBD","w":1319,"v":206},{"s":"NDBD","w":1301,"v":219},{"s":"NDBD","w":1282,"v":214},{"s":"NDBD","w":1255,"v":229},{"s":"NDBD","w":1227,"v":233},{"s":"NDBD","w":1199,"v":243},{"s":"NDBD","w":1181,"v":236},{"s":"NDBD","w":1162,"v":239},{"s":"NDBD","w":1144,"v":229},{"s":"NDBD","w":1126,"v":243},{"s":"NDBD","w":1107,"v":226},{"s":"NDBD","w":1098,"v":203},{"s":"NDBD","w":1080,"v":223},{"s":"NDBD","w":1061,"v":246},{"s":"NDBD","w":1034,"v":263},{"s":"NDBD","w":1006,"v":269},{"s":"NDBD","w":978,"v":276},{"s":"NDBD","w":950,"v":286},{"s":"NDBD","w":919,"v":298},{"s":"NDBD","w":895,"v":286},{"s":"NDBD","w":867,"v":256},{"s":"NDBD","w":855,"v":223},{"s":"NDBD","w":840,"v":239},{"s":"NDBD","w":821,"v":253},{"s":"NDBD","w":803,"v":259},{"s":"NDBD","w":784,"v":276},{"s":"NDBD","w":770,"v":281},{"s":"NDBD","w":757,"v":263},{"s":"NDBD","w":748,"v":239},{"s":"NDBD","w":729,"v":253},{"s":"NDBD","w":711,"v":279},{"s":"NDBD","w":696,"v":286},{"s":"NDBD","w":689,"v":246},{"s":"NDBD","w":678,"v":276},{"s":"NDBD","w":656,"v":281},{"s":"NDBD","w":628,"v":283},{"s":"NDBD","w":600,"v":293},{"s":"NDBD","w":573,"v":299},{"s":"NDBD","w":554,"v":326},{"s":"NDBD","w":527,"v":321},{"s":"NDBD","w":499,"v":326},{"s":"NDBD","w":472,"v":333},{"s":"NDBD","w":444,"v":353},{"s":"NDBD","w":420,"v":360},
{"s":"NDBD/MWCNT","w":4000,"v":361},{"s":"NDBD/MWCNT","w":3963,"v":351},{"s":"NDBD/MWCNT","w":3935,"v":348},{"s":"NDBD/MWCNT","w":3889,"v":348},{"s":"NDBD/MWCNT","w":3834,"v":343},{"s":"NDBD/MWCNT","w":3779,"v":334},{"s":"NDBD/MWCNT","w":3724,"v":323},{"s":"NDBD/MWCNT","w":3678,"v":306},{"s":"NDBD/MWCNT","w":3641,"v":286},{"s":"NDBD/MWCNT","w":3613,"v":263},{"s":"NDBD/MWCNT","w":3585,"v":246},{"s":"NDBD/MWCNT","w":3558,"v":239},{"s":"NDBD/MWCNT","w":3530,"v":242},{"s":"NDBD/MWCNT","w":3502,"v":229},{"s":"NDBD/MWCNT","w":3465,"v":223},{"s":"NDBD/MWCNT","w":3438,"v":226},{"s":"NDBD/MWCNT","w":3410,"v":217},{"s":"NDBD/MWCNT","w":3383,"v":229},{"s":"NDBD/MWCNT","w":3355,"v":246},{"s":"NDBD/MWCNT","w":3318,"v":269},{"s":"NDBD/MWCNT","w":3281,"v":286},{"s":"NDBD/MWCNT","w":3254,"v":289},{"s":"NDBD/MWCNT","w":3235,"v":281},{"s":"NDBD/MWCNT","w":3217,"v":306},{"s":"NDBD/MWCNT","w":3189,"v":323},{"s":"NDBD/MWCNT","w":3153,"v":336},{"s":"NDBD/MWCNT","w":3106,"v":346},{"s":"NDBD/MWCNT","w":3060,"v":353},{"s":"NDBD/MWCNT","w":3005,"v":355},{"s":"NDBD/MWCNT","w":2950,"v":354},{"s":"NDBD/MWCNT","w":2922,"v":350},{"s":"NDBD/MWCNT","w":2894,"v":354},{"s":"NDBD/MWCNT","w":2857,"v":357},{"s":"NDBD/MWCNT","w":2802,"v":360},{"s":"NDBD/MWCNT","w":2692,"v":361},{"s":"NDBD/MWCNT","w":2507,"v":361},{"s":"NDBD/MWCNT","w":2314,"v":359},{"s":"NDBD/MWCNT","w":2222,"v":354},{"s":"NDBD/MWCNT","w":2130,"v":348},{"s":"NDBD/MWCNT","w":2038,"v":343},{"s":"NDBD/MWCNT","w":2000,"v":353},{"s":"NDBD/MWCNT","w":1973,"v":361},{"s":"NDBD/MWCNT","w":1927,"v":361},{"s":"NDBD/MWCNT","w":1853,"v":360},{"s":"NDBD/MWCNT","w":1807,"v":356},{"s":"NDBD/MWCNT","w":1761,"v":354},{"s":"NDBD/MWCNT","w":1724,"v":356},{"s":"NDBD/MWCNT","w":1697,"v":346},{"s":"NDBD/MWCNT","w":1678,"v":329},{"s":"NDBD/MWCNT","w":1660,"v":306},{"s":"NDBD/MWCNT","w":1642,"v":283},{"s":"NDBD/MWCNT","w":1629,"v":276},{"s":"NDBD/MWCNT","w":1618,"v":256},{"s":"NDBD/MWCNT","w":1605,"v":283},{"s":"NDBD/MWCNT","w":1592,"v":313},{"s":"NDBD/MWCNT","w":1577,"v":333},{"s":"NDBD/MWCNT","w":1550,"v":349},{"s":"NDBD/MWCNT","w":1503,"v":354},{"s":"NDBD/MWCNT","w":1457,"v":357},{"s":"NDBD/MWCNT","w":1411,"v":354},{"s":"NDBD/MWCNT","w":1393,"v":351},{"s":"NDBD/MWCNT","w":1384,"v":336},{"s":"NDBD/MWCNT","w":1374,"v":351},{"s":"NDBD/MWCNT","w":1356,"v":354},{"s":"NDBD/MWCNT","w":1337,"v":348},{"s":"NDBD/MWCNT","w":1310,"v":351},{"s":"NDBD/MWCNT","w":1264,"v":346},{"s":"NDBD/MWCNT","w":1208,"v":343},{"s":"NDBD/MWCNT","w":1153,"v":336},{"s":"NDBD/MWCNT","w":1107,"v":332},{"s":"NDBD/MWCNT","w":1070,"v":336},{"s":"NDBD/MWCNT","w":1024,"v":346},{"s":"NDBD/MWCNT","w":969,"v":359},{"s":"NDBD/MWCNT","w":914,"v":363},{"s":"NDBD/MWCNT","w":859,"v":363},{"s":"NDBD/MWCNT","w":803,"v":360},{"s":"NDBD/MWCNT","w":757,"v":353},{"s":"NDBD/MWCNT","w":720,"v":339},{"s":"NDBD/MWCNT","w":693,"v":319},{"s":"NDBD/MWCNT","w":665,"v":299},{"s":"NDBD/MWCNT","w":637,"v":283},{"s":"NDBD/MWCNT","w":610,"v":279},{"s":"NDBD/MWCNT","w":591,"v":286},{"s":"NDBD/MWCNT","w":573,"v":303},{"s":"NDBD/MWCNT","w":545,"v":318},{"s":"NDBD/MWCNT","w":518,"v":306},{"s":"NDBD/MWCNT","w":490,"v":289},{"s":"NDBD/MWCNT","w":472,"v":283},{"s":"NDBD/MWCNT","w":450,"v":293},{"s":"NDBD/MWCNT","w":435,"v":289},{"s":"NDBD/MWCNT","w":410,"v":292}
],
"inset": [
{"w":4000,"v":138},{"w":3945,"v":139},{"w":3889,"v":140},{"w":3834,"v":143},{"w":3779,"v":144},{"w":3746,"v":149},{"w":3727,"v":142},{"w":3705,"v":143},{"w":3678,"v":138},{"w":3650,"v":146},{"w":3628,"v":142},{"w":3595,"v":139},{"w":3540,"v":138},{"w":3484,"v":136},{"w":3410,"v":133},{"w":3337,"v":132},{"w":3263,"v":133},{"w":3189,"v":135},{"w":3097,"v":138},{"w":3005,"v":139},{"w":2940,"v":138},{"w":2917,"v":135},{"w":2894,"v":139},{"w":2839,"v":142},{"w":2747,"v":144},{"w":2673,"v":146},{"w":2643,"v":149},{"w":2548,"v":150},{"w":2453,"v":149},{"w":2396,"v":149},{"w":2377,"v":126},{"w":2367,"v":76},{"w":2358,"v":16},{"w":2348,"v":53},{"w":2334,"v":63},{"w":2319,"v":76},{"w":2304,"v":109},{"w":2291,"v":139},{"w":2262,"v":149},{"w":2225,"v":151},{"w":2167,"v":152},{"w":2110,"v":155},{"w":2081,"v":151},{"w":2072,"v":144},{"w":2053,"v":156},{"w":2024,"v":159},{"w":2005,"v":154},{"w":1986,"v":168},{"w":1967,"v":159},{"w":1948,"v":164},{"w":1920,"v":160},{"w":1844,"v":158},{"w":1768,"v":158},{"w":1701,"v":159},{"w":1672,"v":153},{"w":1634,"v":146},{"w":1596,"v":139},{"w":1568,"v":148},{"w":1539,"v":154},{"w":1510,"v":156},{"w":1463,"v":153},{"w":1406,"v":150},{"w":1349,"v":151},{"w":1311,"v":152}
]
},
"hconcat": [
{
"width": 476, "height": 388,
"resolve": {"axis": {"x": "independent", "y": "independent"}},
"layer": [
{
"data": {"name": "xrd"},
"mark": {"type": "line", "strokeWidth": 1.5},
"encoding": {
"x": {"field": "t", "type": "quantitative", "scale": {"domain": [4, 70], "nice": false, "zero": false},
"axis": {"values": [5,10,15,20,25,30,35,40,45,50,55,60,65,70], "labelExpr": "datum.value % 10 === 0 ? datum.label : ''", "domain": false, "tickSize": 6, "tickWidth": 1.5, "labelFontSize": 16, "labelFontWeight": "bold", "labelPadding": 7, "labelFlush": false, "labelOverlap": false, "title": "2θ / º", "titleFontSize": 21, "titleFontWeight": "normal", "titlePadding": 6}},
"y": {"field": "i", "type": "quantitative", "scale": {"domain": [0, 388], "nice": false},
"axis": {"title": "Intensity / a.u.", "titleFontSize": 19, "titleFontWeight": "normal", "titlePadding": 17, "labels": false, "ticks": false, "domain": false}},
"color": {"field": "s", "type": "nominal", "scale": {"domain": ["MWCNT", "NDBD", "NDBD/MWCNT"], "range": ["#000000", "#d42a2a", "#1f24a8"]},
"legend": {"orient": "none", "legendX": 317.5, "legendY": 7, "title": null, "symbolType": "M-4.3,0H4.3", "symbolSize": 100, "symbolStrokeWidth": 1.5, "labelFontSize": 17, "labelOffset": 13.5, "rowPadding": 5, "padding": 0, "labelColor": "#000"}}
}
},
{
"data": {"values": [{"t": 5.4, "i": 369, "label": "(A)"}]},
"mark": {"type": "text", "align": "left", "baseline": "middle", "fontWeight": "bold", "fontSize": 16, "color": "#000"},
"encoding": {"x": {"field": "t", "type": "quantitative", "axis": null}, "y": {"field": "i", "type": "quantitative", "axis": null}, "text": {"field": "label"}}
}
]
},
{
"width": 669, "height": 388,
"resolve": {"axis": {"x": "independent", "y": "independent"}},
"layer": [
{
"data": {"values": [{"w1": 4086, "w2": 1300, "v1": 8, "v2": 171}]},
"mark": {"type": "rect", "fill": "#fff", "stroke": "#333", "strokeWidth": 1.5},
"encoding": {"x": {"field": "w1", "type": "quantitative", "axis": null, "scale": {"domain": [400, 4100], "reverse": true, "nice": false, "zero": false}}, "x2": {"field": "w2"}, "y": {"field": "v1", "type": "quantitative", "axis": null, "scale": {"domain": [0, 388], "nice": false}}, "y2": {"field": "v2"}}
},
{
"data": {"name": "ftir"},
"mark": {"type": "line", "strokeWidth": 2.8, "clip": true},
"encoding": {
"x": {"field": "w", "type": "quantitative",
"axis": {"orient": "bottom", "values": [4000,3750,3500,3250,3000,2750,2500,2250,2000,1750,1500,1250,1000,750,500], "format": "d", "labelExpr": "datum.value % 500 === 0 ? datum.label : ''", "domain": false, "tickSize": 6, "tickWidth": 1.5, "labelFontSize": 17, "labelPadding": 4, "labelFlush": false, "labelOverlap": false, "title": "Wave number / cm⁻¹", "titleFontSize": 19, "titleFontWeight": "normal", "titlePadding": 6}},
"y": {"field": "v", "type": "quantitative",
"axis": {"title": "% T /a.u.", "titleFontSize": 17, "titleFontWeight": "normal", "titlePadding": 11, "titleY": 153, "labels": false, "ticks": false, "domain": false}},
"color": {"field": "s", "type": "nominal", "scale": {"domain": ["MWCNT", "NDBD", "NDBD/MWCNT"], "range": ["#000000", "#f2121b", "#1a1aef"]},
"legend": {"orient": "none", "legendX": 529, "legendY": 325, "title": null, "symbolType": "M-3.8,0H3.8", "symbolSize": 100, "symbolStrokeWidth": 3.5, "labelFontSize": 14, "labelFontWeight": "bold", "labelOffset": 12, "rowPadding": 5, "padding": 0, "labelColor": "#000"}}
}
},
{
"data": {"name": "inset"},
"mark": {"type": "line", "strokeWidth": 3, "color": "#000"},
"encoding": {
"x": {"field": "w", "type": "quantitative",
"axis": {"orient": "bottom", "offset": -8, "zindex": 2, "values": [4000,3750,3500,3250,3000,2750,2500,2250,2000,1750,1500], "format": "d", "labelExpr": "datum.value % 500 === 0 ? datum.label : ''", "domain": false, "tickSize": -3, "tickWidth": 1.5, "labelPadding": 0, "labelBaseline": "alphabetic", "labelFont": "DejaVu Sans", "labelFontWeight": "bold", "labelFontSize": 11.5, "labelOffset": 8, "labelFlush": false, "labelOverlap": false, "title": null}},
"y": {"field": "v", "type": "quantitative", "axis": null}
}
},
{
"data": {"values": [{"w": 4077, "v": 375, "label": "(B)"}]},
"mark": {"type": "text", "align": "left", "baseline": "middle", "fontWeight": "bold", "fontSize": 17, "color": "#000"},
"encoding": {"x": {"field": "w", "type": "quantitative", "axis": null}, "y": {"field": "v", "type": "quantitative", "axis": null}, "text": {"field": "label"}}
},
{
"data": {"values": [{"w": 4077, "v": 184, "label": "MWCNT"}]},
"mark": {"type": "text", "align": "left", "baseline": "middle", "fontWeight": "bold", "fontSize": 16, "color": "#000"},
"encoding": {"x": {"field": "w", "type": "quantitative", "axis": null}, "y": {"field": "v", "type": "quantitative", "axis": null}, "text": {"field": "label"}}
},
{
"data": {"values": [
{"w": 3410, "v": 248, "label": "O-H"}, {"w": 3410, "v": 202, "label": "O-H"}, {"w": 1669, "v": 185, "label": "C=N"}, {"w": 1494, "v": 187, "label": "N=N"}, {"w": 1330, "v": 178, "label": "N-O"}, {"w": 1254, "v": 198, "label": "C-O"},
{"w": 3348, "v": 122, "label": "O-H"}, {"w": 2928, "v": 125, "label": "H-H"}, {"w": 1606, "v": 128, "label": "C=C"}
]},
"mark": {"type": "text", "align": "center", "baseline": "middle", "fontWeight": "bold", "fontSize": 13, "color": "#000"},
"encoding": {"x": {"field": "w", "type": "quantitative", "axis": null}, "y": {"field": "v", "type": "quantitative", "axis": null}, "text": {"field": "label"}}
}
]
}
]
}
